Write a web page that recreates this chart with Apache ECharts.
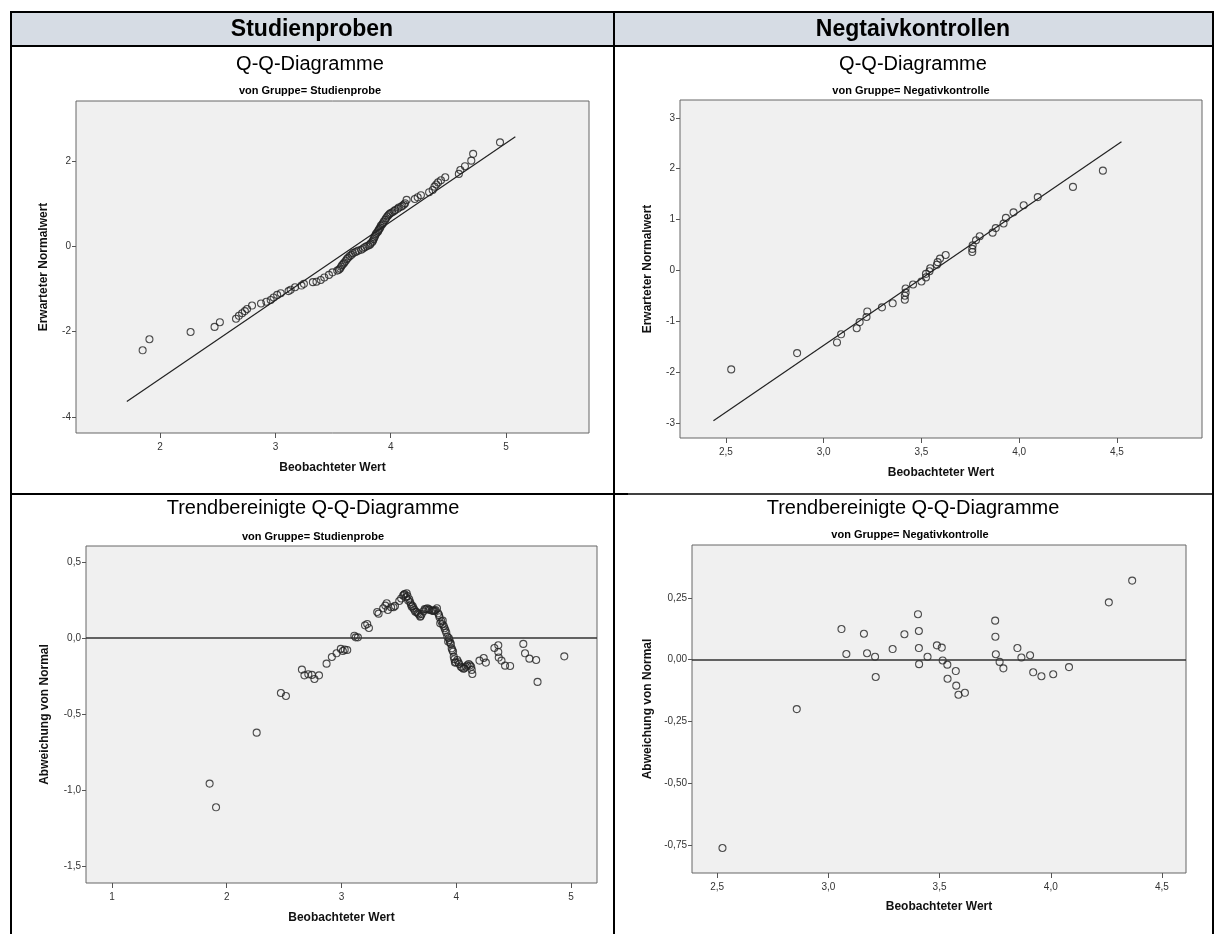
<!DOCTYPE html>
<html>
<head>
<meta charset="utf-8">
<script src="https://cdn.jsdelivr.net/npm/echarts@6/dist/echarts.min.js"></script>
<style>
  html, body { margin: 0; padding: 0; background: #fff; }
  #chart { width: 1215px; height: 934px; }
</style>
</head>
<body>
<div id="chart"></div>
<script>
// Q-Q Studienprobe: [beobachteter Wert, erwarteter Normalwert]
const qqStudien = [
  [1.848,-2.44],[1.907,-2.18],[2.264,-2.01],[2.472,-1.89],[2.518,-1.78],[2.658,-1.70],
  [2.683,-1.63],[2.711,-1.57],[2.735,-1.52],[2.754,-1.47],[2.797,-1.39],[2.875,-1.34],
  [2.921,-1.30],[2.959,-1.26],[2.984,-1.20],[3.015,-1.14],[3.046,-1.10],[3.114,-1.05],
  [3.132,-1.02],[3.170,-0.96],[3.226,-0.92],[3.247,-0.88],[3.325,-0.84],[3.356,-0.83],
  [3.393,-0.79],[3.424,-0.73],[3.464,-0.67],[3.495,-0.61],[3.536,-0.57],[3.55,-0.55],
  [3.561,-0.52],[3.57,-0.48],[3.579,-0.44],[3.59,-0.41],[3.598,-0.38],[3.61,-0.34],
  [3.620,-0.30],[3.63,-0.27],[3.644,-0.23],[3.66,-0.20],[3.672,-0.16],[3.69,-0.14],
  [3.703,-0.12],[3.72,-0.10],[3.744,-0.08],[3.76,-0.05],[3.775,-0.02],[3.79,0.00],
  [3.806,0.02],[3.82,0.04],[3.827,0.07],[3.84,0.10],[3.846,0.13],[3.852,0.17],
  [3.858,0.21],[3.865,0.25],[3.871,0.29],[3.88,0.32],[3.890,0.35],[3.895,0.38],
  [3.902,0.41],[3.91,0.44],[3.914,0.48],[3.925,0.51],[3.933,0.54],[3.94,0.58],
  [3.952,0.62],[3.96,0.66],[3.970,0.70],[3.98,0.73],[3.989,0.76],[4.0,0.78],
  [4.014,0.80],[4.03,0.83],[4.039,0.85],[4.06,0.88],[4.070,0.91],[4.09,0.93],
  [4.101,0.95],[4.115,0.98],[4.125,1.01],[4.138,1.09],[4.209,1.11],[4.234,1.15],
  [4.262,1.20],[4.333,1.27],[4.364,1.32],[4.380,1.40],[4.395,1.45],[4.411,1.50],
  [4.436,1.55],[4.473,1.62],[4.591,1.70],[4.604,1.79],[4.644,1.88],[4.699,2.01],
  [4.715,2.17],[4.948,2.44]
];
const lineStudien = [[1.711,-3.64],[5.081,2.57]];

// Q-Q Negativkontrolle
const qqNegativ = [
  [2.527,-1.95],[2.864,-1.63],[3.068,-1.42],[3.089,-1.26],[3.169,-1.14],[3.184,-1.02],
  [3.219,-0.92],[3.223,-0.81],[3.298,-0.73],[3.353,-0.65],[3.415,-0.58],[3.415,-0.50],
  [3.419,-0.44],[3.419,-0.36],[3.457,-0.28],[3.500,-0.22],[3.523,-0.14],[3.523,-0.07],
  [3.541,-0.02],[3.545,0.04],[3.579,0.11],[3.583,0.16],[3.595,0.23],[3.624,0.30],
  [3.760,0.36],[3.760,0.42],[3.762,0.49],[3.779,0.59],[3.798,0.67],[3.864,0.74],
  [3.880,0.83],[3.920,0.92],[3.932,1.03],[3.971,1.14],[4.023,1.28],[4.095,1.44],
  [4.275,1.64],[4.428,1.96]
];
const lineNegativ = [[2.436,-2.96],[4.523,2.53]];

// Trendbereinigt Studienprobe: [beobachteter Wert, Abweichung von Normal]
const detStudien = [
  [1.851,-0.958],[1.907,-1.114],[2.261,-0.623],[2.472,-0.362],[2.516,-0.382],[2.655,-0.208],
  [2.677,-0.246],[2.711,-0.239],[2.742,-0.243],[2.764,-0.270],[2.804,-0.246],[2.870,-0.169],
  [2.916,-0.125],[2.957,-0.101],[2.994,-0.072],[3.012,-0.086],[3.028,-0.077],[3.050,-0.079],
  [3.112,0.015],[3.124,0.004],[3.143,0.004],[3.205,0.083],[3.224,0.092],[3.239,0.066],
  [3.311,0.171],[3.323,0.160],[3.363,0.195],[3.382,0.213],[3.394,0.228],[3.404,0.184],
  [3.432,0.202],[3.453,0.202],[3.466,0.211],[3.503,0.243],[3.52,0.26],[3.537,0.279],
  [3.545,0.285],[3.550,0.289],[3.562,0.268],[3.568,0.294],[3.575,0.275],[3.581,0.246],
  [3.59,0.255],[3.599,0.235],[3.605,0.22],[3.612,0.206],[3.62,0.21],[3.627,0.195],
  [3.635,0.185],[3.643,0.173],[3.655,0.17],[3.665,0.162],[3.675,0.155],[3.686,0.140],
  [3.69,0.145],[3.699,0.158],[3.715,0.175],[3.725,0.19],[3.736,0.189],[3.748,0.195],
  [3.76,0.19],[3.767,0.184],[3.786,0.180],[3.795,0.18],[3.804,0.178],[3.812,0.18],
  [3.820,0.184],[3.832,0.195],[3.842,0.162],[3.85,0.15],[3.854,0.136],[3.860,0.096],
  [3.87,0.11],[3.88,0.09],[3.882,0.114],[3.891,0.079],[3.898,0.064],[3.905,0.05],
  [3.913,0.035],[3.922,0.009],[3.929,-0.024],[3.935,0.0],[3.941,-0.013],[3.945,-0.03],
  [3.953,-0.039],[3.960,-0.068],[3.965,-0.08],[3.972,-0.090],[3.978,-0.123],[3.983,-0.14],
  [3.988,-0.162],[3.995,-0.16],[4.009,-0.145],[4.018,-0.16],[4.025,-0.171],[4.040,-0.189],
  [4.05,-0.195],[4.062,-0.202],[4.07,-0.2],[4.084,-0.189],[4.095,-0.18],[4.109,-0.171],
  [4.12,-0.18],[4.130,-0.189],[4.135,-0.21],[4.140,-0.237],[4.202,-0.149],[4.239,-0.132],
  [4.258,-0.162],[4.332,-0.066],[4.366,-0.048],[4.366,-0.092],[4.370,-0.129],[4.394,-0.149],
  [4.425,-0.182],[4.469,-0.184],[4.584,-0.039],[4.599,-0.101],[4.637,-0.136],[4.696,-0.145],
  [4.708,-0.289],[4.941,-0.121]
];

// Trendbereinigt Negativkontrolle
const detNegativ = [
  [2.524,-0.762],[2.858,-0.200],[3.059,0.124],[3.081,0.023],[3.160,0.105],[3.174,0.026],
  [3.210,0.012],[3.213,-0.070],[3.289,0.043],[3.342,0.103],[3.403,0.184],[3.407,0.116],
  [3.407,0.047],[3.408,-0.018],[3.446,0.012],[3.488,0.058],[3.510,0.049],[3.514,-0.003],
  [3.535,-0.020],[3.536,-0.077],[3.573,-0.046],[3.575,-0.105],[3.585,-0.142],[3.614,-0.134],
  [3.750,0.158],[3.751,0.093],[3.753,0.022],[3.770,-0.009],[3.787,-0.035],[3.850,0.047],
  [3.868,0.009],[3.907,0.018],[3.921,-0.051],[3.958,-0.067],[4.011,-0.059],[4.082,-0.030],
  [4.261,0.232],[4.366,0.320]
];

// Achsenbeschriftungen
const xTicksStudien = [2, 3, 4, 5];
const yTicksStudien = [-4, -2, 0, 2];
const xTicksNegativ = [2.5, 3.0, 3.5, 4.0, 4.5];
const yTicksNegativ = [-3, -2, -1, 0, 1, 2, 3];
const xTicksDetStudien = [1, 2, 3, 4, 5];
const yTicksDetStudien = [-1.5, -1.0, -0.5, 0.0, 0.5];
const yTicksDetNegativ = [-0.75, -0.50, -0.25, 0.00, 0.25];

const FONT = "'Liberation Sans', Arial, sans-serif";
const NARROW = "'Liberation Sans Narrow', 'Arial Narrow', 'Liberation Sans', Arial, sans-serif";

function fmt(dec) {
  return v => v.toFixed(dec).replace('.', ',');
}

function axis(gridIndex, min, max, ticks, dec, name, nameGap, vertical) {
  return {
    type: 'value',
    gridIndex: gridIndex,
    min: min,
    max: max,
    name: name,
    nameLocation: 'middle',
    nameGap: nameGap,
    nameTextStyle: { fontFamily: FONT, fontWeight: 'bold', fontSize: 12, color: '#111' },
    axisLine: { show: false, onZero: false },
    splitLine: { show: false },
    axisTick: {
      show: true,
      length: vertical ? 4 : 5,
      customValues: ticks,
      lineStyle: { color: '#555', width: 1 }
    },
    axisLabel: {
      customValues: ticks,
      formatter: fmt(dec),
      margin: vertical ? 5 : 9,
      fontFamily: NARROW,
      fontSize: 10,
      color: '#333'
    }
  };
}

function points(data, xi) {
  return {
    type: 'scatter',
    xAxisIndex: xi,
    yAxisIndex: xi,
    data: data,
    symbol: 'circle',
    symbolSize: 7,
    itemStyle: { color: 'rgba(0,0,0,0)', borderColor: '#222', borderWidth: 1.1 },
    emphasis: { disabled: true },
    z: 3
  };
}

function refLine(data, xi) {
  return {
    type: 'line',
    xAxisIndex: xi,
    yAxisIndex: xi,
    data: data,
    showSymbol: false,
    lineStyle: { color: '#222', width: 1.2 },
    emphasis: { disabled: true },
    z: 2
  };
}

function zeroLine() {
  return {
    silent: true,
    symbol: 'none',
    label: { show: false },
    lineStyle: { color: '#333', width: 1.5, type: 'solid' },
    data: [{ yAxis: 0 }]
  };
}

const gridStyle = { show: true, backgroundColor: '#f0f0f0', borderColor: '#666', borderWidth: 1, containLabel: false };

function txt(text, x, y, size, weight) {
  return {
    type: 'text',
    x: x, y: y,
    style: {
      text: text,
      fill: '#000',
      fontFamily: FONT,
      fontSize: size,
      fontWeight: weight,
      textAlign: 'center',
      textVerticalAlign: 'middle'
    },
    z: 10
  };
}

function hline(x1, x2, y, w) {
  return { type: 'line', shape: { x1: x1, y1: y, x2: x2, y2: y }, style: { stroke: '#000', lineWidth: w }, z: 20 };
}
function vline(x, y1, y2, w) {
  return { type: 'line', shape: { x1: x, y1: y1, x2: x, y2: y2 }, style: { stroke: '#000', lineWidth: w }, z: 20 };
}

const chart = echarts.init(document.getElementById('chart'), null, { renderer: 'canvas' });

const option = {
  animation: false,
  backgroundColor: '#fff',
  grid: [
    Object.assign({ left: 76, top: 101, width: 513, height: 332 }, gridStyle),
    Object.assign({ left: 680, top: 100, width: 522, height: 338 }, gridStyle),
    Object.assign({ left: 86, top: 546, width: 511, height: 337 }, gridStyle),
    Object.assign({ left: 692, top: 545, width: 494, height: 328 }, gridStyle)
  ],
  xAxis: [
    axis(0, 1.27, 5.72, xTicksStudien, 0, 'Beobachteter Wert', 29, false),
    axis(1, 2.265, 4.935, xTicksNegativ, 1, 'Beobachteter Wert', 29, false),
    axis(2, 0.774, 5.226, xTicksDetStudien, 0, 'Beobachteter Wert', 29, false),
    axis(3, 2.387, 4.608, xTicksNegativ, 1, 'Beobachteter Wert', 28, false)
  ],
  yAxis: [
    axis(0, -4.38, 3.41, yTicksStudien, 0, 'Erwarteter Normalwert', 26, true),
    axis(1, -3.30, 3.35, yTicksNegativ, 0, 'Erwarteter Normalwert', 26, true),
    axis(2, -1.612, 0.605, yTicksDetStudien, 1, 'Abweichung von Normal', 35, true),
    axis(3, -0.863, 0.464, yTicksDetNegativ, 2, 'Abweichung von Normal', 38, true)
  ],
  series: [
    refLine(lineStudien, 0),
    points(qqStudien, 0),
    refLine(lineNegativ, 1),
    points(qqNegativ, 1),
    Object.assign(points(detStudien, 2), { markLine: zeroLine() }),
    Object.assign(points(detNegativ, 3), { markLine: zeroLine() })
  ],
  graphic: [
    { type: 'rect', shape: { x: 11, y: 12, width: 1202, height: 34 }, style: { fill: '#d6dce4' }, z: 1 },
    txt('Studienproben', 312, 30, 23, 'bold'),
    txt('Negtaivkontrollen', 913, 30, 23, 'bold'),
    txt('Q-Q-Diagramme', 310, 64, 20, 'normal'),
    txt('Q-Q-Diagramme', 913, 64, 20, 'normal'),
    txt('von Gruppe= Studienprobe', 310, 91, 11, 'bold'),
    txt('von Gruppe= Negativkontrolle', 911, 91, 11, 'bold'),
    txt('Trendbereinigte Q-Q-Diagramme', 313, 508, 20, 'normal'),
    txt('Trendbereinigte Q-Q-Diagramme', 913, 508, 20, 'normal'),
    txt('von Gruppe= Studienprobe', 313, 537, 11, 'bold'),
    txt('von Gruppe= Negativkontrolle', 910, 535, 11, 'bold'),
    hline(10, 1214, 12, 2),
    hline(10, 1214, 46, 2),
    hline(10, 628, 494, 2),
    hline(628, 1214, 494, 1.5),
    vline(11, 11, 934, 2),
    vline(614, 11, 934, 2),
    vline(1213, 11, 934, 2)
  ]
};

chart.setOption(option);
</script>
</body>
</html>
